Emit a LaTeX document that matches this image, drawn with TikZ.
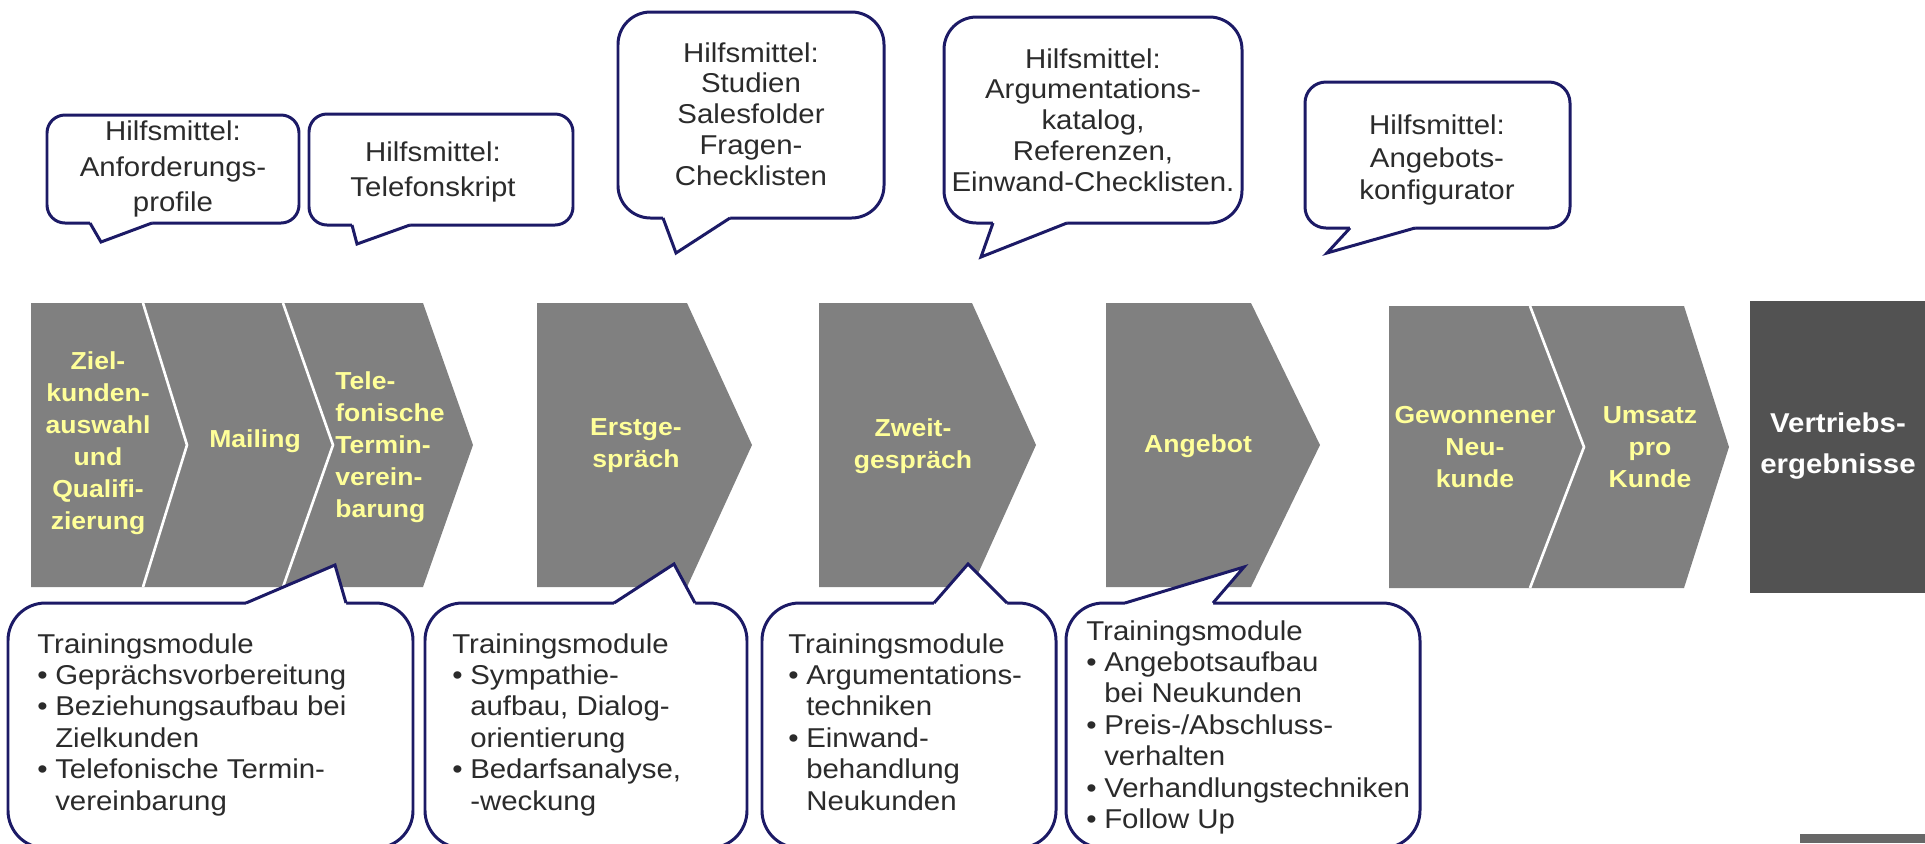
\documentclass[tikz,border=0pt]{standalone}
\usepackage{fontspec}
\setmainfont{Liberation Sans}[FakeStretch=1.08]
\usepackage{tikz}
\usetikzlibrary{positioning}
\definecolor{stepgray}{HTML}{808080}
\definecolor{resultgray}{HTML}{525252}
\definecolor{bubbleline}{HTML}{1C1A66}
\definecolor{labelyellow}{HTML}{FFFF99}
\definecolor{bodytext}{HTML}{2B2B2B}
\newcommand{\itembul}{\makebox[10.2pt][l]{\textbullet}}
\newcommand{\itemgap}{\hspace*{10.2pt}}

\tikzset{
  bubble/.style={draw=bubbleline, line width=1.7pt, fill=white, rounded corners=#1},
  bubble/.default=0.4cm,
  pointer/.style={draw=bubbleline, line width=1.7pt},
  steplabel/.style={text=labelyellow, font=\fontsize{14}{18.2}\selectfont\bfseries, align=center, inner sep=0pt},
  toolnote/.style={text=bodytext, font=\fontsize{15.5}{#1}\selectfont, align=center, inner sep=0pt},
  toolnote/.default=17.5,
  modulelist/.style={text=bodytext, font=\fontsize{15.5}{17.9}\selectfont, align=left, inner sep=0pt, anchor=north west}
}

\begin{document}
\begin{tikzpicture}[x=0.02cm, y=-0.02cm]
  \useasboundingbox (0,0) rectangle (1925,843);

  % Process chain: first group of three steps
  \fill[stepgray] (31,303) -- (423,303) -- (473,445) -- (423,587) -- (31,587) -- cycle;
  \foreach \x/\tip in {143/187, 283/333}
    \draw[white, line width=1.5pt] (\x,303) -- (\tip,445) -- (\x,587);

  % Single steps
  \foreach \l/\r/\tip in {537/687/752, 819/972/1036, 1106/1251/1320}
    \fill[stepgray] (\l,303) -- (\r,303) -- (\tip,445) -- (\r,587) -- (\l,587) -- cycle;

  % Second group of two steps
  \fill[stepgray] (1389,306) -- (1684,306) -- (1729,447) -- (1684,588) -- (1389,588) -- cycle;
  \draw[white, line width=1.5pt] (1530,306) -- (1584,447) -- (1530,588);

  % Result box
  \fill[resultgray] (1750,301) rectangle (1925,593);
  \fill[stepgray!80!black] (1800,834) rectangle (1925,843);

  % Step labels
  \node[steplabel] (ziel) at (98,443) {Ziel-\\kunden-\\auswahl\\und\\Qualifi-\\zierung};
  \node[steplabel] (mailing) at (255,441) {Mailing};
  \node[steplabel, align=left, anchor=west] (telefon) at (335,447) {Tele-\\fonische\\Termin-\\verein-\\barung};
  \node[steplabel] (erst) at (636,446) {Erstge-\\spräch};
  \node[steplabel] (zweit) at (913,446) {Zweit-\\gespräch};
  \node[steplabel] (angebot) at (1198,446) {Angebot};
  \node[steplabel] (neukunde) at (1475,447) {Gewonnener\\Neu-\\kunde};
  \node[steplabel] (umsatz) at (1650,447) {Umsatz\\pro\\Kunde};
  \node[steplabel, text=white, font=\fontsize{15.5}{23.3}\selectfont\bfseries] (ergebnis) at (1838,446) {Vertriebs-\\ergebnisse};

  % Training callouts below the chain
  \foreach \l/\r/\a/\tx/\ty/\c in {8/413/246/335/565/346, 425/747/614/674/564/695,
                                   762/1056/934/968/564/1007, 1066/1420/1125/1244/567/1213} {
    \draw[bubble=0.75cm] (\l,603) rectangle (\r,848);
    \fill[white] (\a,607) -- (\a,603) -- (\tx,\ty) -- (\c,603) -- (\c,607) -- cycle;
    \draw[pointer] (\a,603) -- (\tx,\ty) -- (\c,603);
  }

  % Tool callouts above the chain
  \foreach \l/\t/\r/\b/\a/\tx/\ty/\c/\rad in {47/115/299/223/90/101/242/152/0.36cm,
      309/114/573/225/352/357/244/410/0.36cm, 618/12/884/218/663/676/253/730/0.65cm,
      944/17/1242/223/993/981/257/1067/0.65cm, 1305/82/1570/228/1350/1327/253/1415/0.42cm} {
    \draw[bubble=\rad] (\l,\t) rectangle (\r,\b);
    \fill[white] (\a,\b-4) -- (\a,\b) -- (\tx,\ty) -- (\c,\b) -- (\c,\b-4) -- cycle;
    \draw[pointer] (\a,\b) -- (\tx,\ty) -- (\c,\b);
  }

  % Tool texts
  \node[toolnote=20.2] (hilfe1) at (173,169) {Hilfsmittel:\\Anforderungs-\\profile};
  \node[toolnote=20.2] (hilfe2) at (433,172) {Hilfsmittel:\\Telefonskript};
  \node[toolnote] (hilfe3) at (751,114) {Hilfsmittel:\\Studien\\Salesfolder\\Fragen-\\Checklisten};
  \node[toolnote] (hilfe4) at (1093,120) {Hilfsmittel:\\Argumentations-\\katalog,\\Referenzen,\\Einwand-Checklisten.};
  \node[toolnote=18.5] (hilfe5) at (1437,160) {Hilfsmittel:\\Angebots-\\konfigurator};

  % Training texts
  \node[modulelist] (modul1) at (37,633) {Trainingsmodule\\\itembul Geprächsvorbereitung\\\itembul Beziehungsaufbau bei\\\itemgap Zielkunden\\\itembul Telefonische Termin-\\\itemgap vereinbarung};
  \node[modulelist] (modul2) at (452,633) {Trainingsmodule\\\itembul Sympathie-\\\itemgap aufbau, Dialog-\\\itemgap orientierung\\\itembul Bedarfsanalyse,\\\itemgap -weckung};
  \node[modulelist] (modul3) at (788,633) {Trainingsmodule\\\itembul Argumentations-\\\itemgap techniken\\\itembul Einwand-\\\itemgap behandlung\\\itemgap Neukunden};
  \node[modulelist] (modul4) at (1086,620) {Trainingsmodule\\\itembul Angebotsaufbau\\\itemgap bei Neukunden\\\itembul Preis-/Abschluss-\\\itemgap verhalten\\\itembul Verhandlungstechniken\\\itembul Follow Up};
\end{tikzpicture}
\end{document}
